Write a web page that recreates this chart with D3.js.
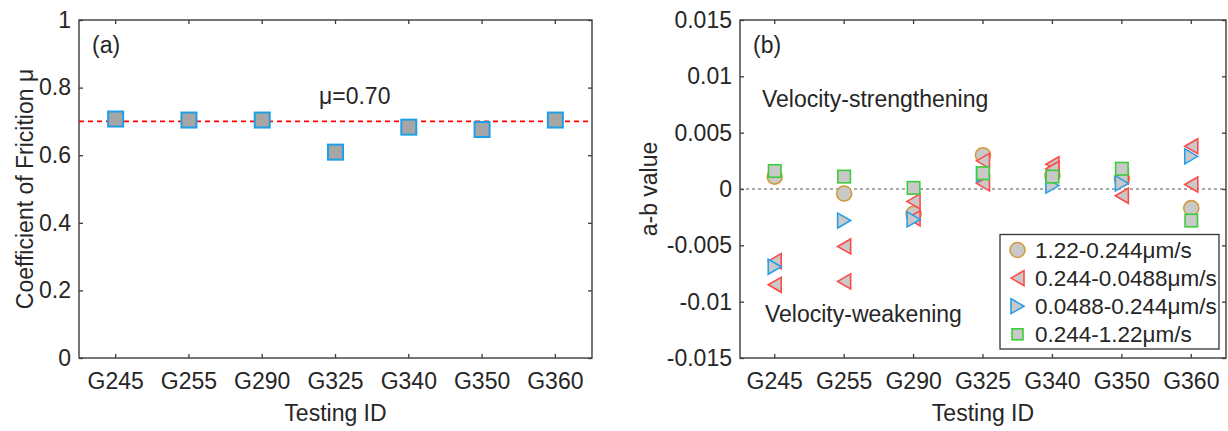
<!DOCTYPE html>
<html>
<head>
<meta charset="utf-8">
<script src="https://cdn.jsdelivr.net/npm/d3@7"></script>
<style>
  body { margin: 0; background: #fff; }
  svg text { font-family: "Liberation Sans", Arial, Helvetica, sans-serif; fill: #262626; }
</style>
</head>
<body>
<svg id="chart" width="1228" height="431"></svg>
<script>
// ---- data ----
const testIds = ["G245", "G255", "G290", "G325", "G340", "G350", "G360"];

// (a) steady-state friction coefficient per test
const frictionMu = [0.707, 0.704, 0.704, 0.609, 0.683, 0.676, 0.704];
const muReference = 0.70;
const muTicks = [0, 0.2, 0.4, 0.6, 0.8, 1];
const muTickLabels = ["0", "0.2", "0.4", "0.6", "0.8", "1"];

// (b) a-b values for each velocity step
const abTicks = [-0.015, -0.01, -0.005, 0, 0.005, 0.01, 0.015];
const abTickLabels = ["-0.015", "-0.01", "-0.005", "0", "0.005", "0.01", "0.015"];
const stepLabels = ["1.22-0.244\u03bcm/s", "0.244-0.0488\u03bcm/s", "0.0488-0.244\u03bcm/s", "0.244-1.22\u03bcm/s"];
const abStep1 = [0.0011, -0.0004, -0.0022, 0.0030, 0.0012, 0.0009, -0.0017];   // 1.22 -> 0.244
const abStep2a = [-0.0064, -0.0051, -0.0011, 0.0025, 0.0022, 0.0011, 0.0038];  // 0.244 -> 0.0488
const abStep2b = [-0.0085, -0.0082, -0.0026, 0.0005, 0.0018, -0.0006, 0.0004]; // 0.244 -> 0.0488 (repeat)
const abStep3 = [-0.0069, -0.0028, -0.0027, 0.0013, 0.0003, 0.0005, 0.0029];   // 0.0488 -> 0.244
const abStep4 = [0.0016, 0.0011, 0.0001, 0.0014, 0.0011, 0.0018, -0.0028];     // 0.244 -> 1.22

// ---- drawing ----
const svg = d3.select("#chart");
const FONT = 23;
const AXIS_COLOR = "#3c3c3c";

const triLeft = "M-6.5,0L6.5,-7.5L6.5,7.5Z";
const triRight = "M6.5,0L-6.5,-7.5L-6.5,7.5Z";

function makePanel(box, yDomain, ticks, tickLabels) {
  const x = d3.scaleBand().domain(testIds).range([box.left, box.right]);
  const y = d3.scaleLinear().domain(yDomain).range([box.bottom, box.top]);
  const cx = id => x(id) + x.bandwidth() / 2;
  const g = svg.append("g");

  const styleAxis = sel => {
    sel.attr("font-size", FONT)
       .attr("font-family", "\"Liberation Sans\", Arial, Helvetica, sans-serif")
       .attr("color", "#262626");
    sel.select(".domain").remove();
    sel.selectAll(".tick line").attr("stroke", AXIS_COLOR).attr("stroke-width", 1.3);
  };

  g.append("g").attr("transform", `translate(0,${box.bottom})`)
    .call(d3.axisBottom(x).tickSize(-4).tickPadding(15))
    .call(styleAxis);
  g.append("g").attr("transform", `translate(0,${box.top})`)
    .call(d3.axisTop(x).tickSize(-4).tickFormat(""))
    .call(styleAxis);
  g.append("g").attr("transform", `translate(${box.left},0)`)
    .call(d3.axisLeft(y).tickValues(ticks).tickSize(-4).tickPadding(8)
      .tickFormat((d, i) => tickLabels[i]))
    .call(styleAxis);
  g.append("g").attr("transform", `translate(${box.right},0)`)
    .call(d3.axisRight(y).tickValues(ticks).tickSize(-4).tickFormat(""))
    .call(styleAxis);

  g.append("rect")
    .attr("x", box.left).attr("y", box.top)
    .attr("width", box.right - box.left).attr("height", box.bottom - box.top)
    .attr("fill", "none").attr("stroke", AXIS_COLOR).attr("stroke-width", 1.4);

  g.append("text")
    .attr("x", (box.left + box.right) / 2).attr("y", 421)
    .attr("text-anchor", "middle").attr("font-size", FONT)
    .text("Testing ID");

  return { g, x, y, cx };
}

// ---- panel (a) ----
const boxA = { left: 79, right: 592, top: 20, bottom: 358 };
const pa = makePanel(boxA, [0, 1], muTicks, muTickLabels);

pa.g.append("line")
  .attr("x1", boxA.left).attr("x2", boxA.right)
  .attr("y1", pa.y(muReference)).attr("y2", pa.y(muReference))
  .attr("stroke", "#ff0000").attr("stroke-width", 1.6).attr("stroke-dasharray", "5,4");

pa.g.selectAll("rect.mu")
  .data(frictionMu)
  .join("rect")
  .attr("class", "mu")
  .attr("x", (d, i) => pa.cx(testIds[i]) - 7.5)
  .attr("y", d => pa.y(d) - 7.5)
  .attr("width", 15).attr("height", 15)
  .attr("fill", "#a6a6a6").attr("stroke", "#1e9fe6").attr("stroke-width", 2);

pa.g.append("text").attr("x", 319).attr("y", 103.5).attr("font-size", FONT)
  .text("\u03bc=" + muReference.toFixed(2));
pa.g.append("text").attr("x", 92).attr("y", 53).attr("font-size", FONT).text("(a)");
pa.g.append("text")
  .attr("transform", `translate(33,${(boxA.top + boxA.bottom) / 2}) rotate(-90)`)
  .attr("text-anchor", "middle").attr("font-size", FONT)
  .text("Coefficient of Fricition \u03bc");

// ---- panel (b) ----
const boxB = { left: 740, right: 1226, top: 20, bottom: 358 };
const pb = makePanel(boxB, [-0.015, 0.015], abTicks, abTickLabels);

pb.g.append("line")
  .attr("x1", boxB.left).attr("x2", boxB.right)
  .attr("y1", pb.y(0)).attr("y2", pb.y(0))
  .attr("stroke", "#555").attr("stroke-width", 1).attr("stroke-dasharray", "3,3");

const FILL_B = "#c9c9c9";
const styles = [
  { kind: "circle", stroke: "#d19a3c" },
  { kind: "left", stroke: "#ff4a4a" },
  { kind: "right", stroke: "#2aa0e8" },
  { kind: "square", stroke: "#3ccc3c" }
];

function drawMarker(sel, kind, stroke, small) {
  let m;
  if (kind === "circle") {
    m = sel.append("circle").attr("r", 7.5);
  } else if (kind === "square") {
    const s = small ? 11 : 12.5;
    m = sel.append("rect").attr("x", -s / 2).attr("y", -s / 2).attr("width", s).attr("height", s);
  } else {
    m = sel.append("path").attr("d", kind === "left" ? triLeft : triRight);
  }
  m.attr("fill", FILL_B).attr("stroke", stroke).attr("stroke-width", 1.6);
}

const seriesOrder = [
  { values: abStep1, style: styles[0] },
  { values: abStep2a, style: styles[1] },
  { values: abStep2b, style: styles[1] },
  { values: abStep3, style: styles[2] },
  { values: abStep4, style: styles[3] }
];

seriesOrder.forEach(s => {
  pb.g.append("g").selectAll("g")
    .data(s.values)
    .join("g")
    .attr("transform", (d, i) => `translate(${pb.cx(testIds[i])},${pb.y(d)})`)
    .each(function () { drawMarker(d3.select(this), s.style.kind, s.style.stroke, false); });
});

pb.g.append("text").attr("x", 753).attr("y", 53).attr("font-size", FONT).text("(b)");
pb.g.append("text").attr("x", 762).attr("y", 106.5).attr("font-size", FONT).text("Velocity-strengthening");
pb.g.append("text").attr("x", 765).attr("y", 321.5).attr("font-size", FONT).text("Velocity-weakening");
pb.g.append("text")
  .attr("transform", `translate(657,${(boxB.top + boxB.bottom) / 2}) rotate(-90)`)
  .attr("text-anchor", "middle").attr("font-size", FONT)
  .text("a-b value");

// legend
const leg = pb.g.append("g");
leg.append("rect")
  .attr("x", 1000).attr("y", 234.5).attr("width", 219).attr("height", 114.5)
  .attr("fill", "#fff").attr("stroke", "#333").attr("stroke-width", 1.3);
stepLabels.forEach((lbl, i) => {
  const row = leg.append("g").attr("transform", `translate(0,${250 + i * 28.1})`);
  const mk = row.append("g").attr("transform", "translate(1017.5,0)");
  drawMarker(mk, styles[i].kind, styles[i].stroke, true);
  row.append("text").attr("x", 1035).attr("dy", "0.35em").attr("font-size", 22.5).text(lbl);
});
</script>
</body>
</html>
